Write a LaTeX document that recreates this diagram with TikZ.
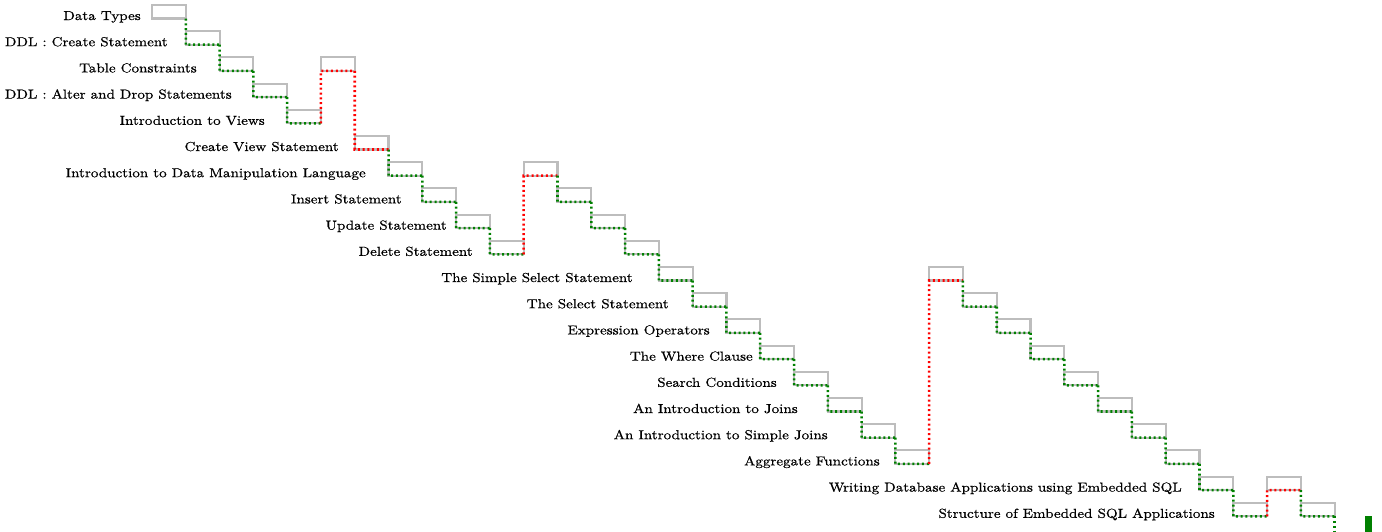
\documentclass[tikz,border=0pt]{standalone}
\usepackage{fontspec}
\setmainfont{Latin Modern Roman}[FakeStretch=1.16,FakeBold=0.7]
\definecolor{barline}{HTML}{BDBDBD}
\definecolor{okpath}{HTML}{008000}
\definecolor{hotpath}{HTML}{FF0000}
\begin{document}
\begin{tikzpicture}[x=0.75pt,y=-0.75pt,
  bar/.style={draw=barline,line width=1.6pt,rectangle,inner sep=0pt,outer sep=0pt,
    minimum width=25.34pt,minimum height=10.125pt},
  link/.style={line width=1.9pt,dash pattern=on 1.5pt off 2.1pt},
  lbl/.style={anchor=base east,inner sep=0pt,font=\fontsize{9.75}{11}\selectfont}]
\useasboundingbox (0,0) rectangle (1382,532);
% bars: column / row
\foreach \c/\r in {0/0,1/1,2/2,3/3,4/4,5/2,6/5,7/6,8/7,9/8,10/9,11/6,12/7,13/8,14/9,
  15/10,16/11,17/12,18/13,19/14,20/15,21/16,22/17,23/10,24/11,25/12,26/13,27/14,
  28/15,29/16,30/17,31/18,32/19,33/18,34/19}
  \node[bar] (b\c) at ({152+33.79*\c+16.9},{11.75+26.2*\r}) {};
% dependency links between consecutive bars
\foreach \c/\col in {1/okpath,2/okpath,3/okpath,4/okpath,5/hotpath,6/hotpath,7/okpath,
  8/okpath,9/okpath,10/okpath,11/hotpath,12/okpath,13/okpath,14/okpath,15/okpath,
  16/okpath,17/okpath,18/okpath,19/okpath,20/okpath,21/okpath,22/okpath,23/hotpath,
  24/okpath,25/okpath,26/okpath,27/okpath,28/okpath,29/okpath,30/okpath,31/okpath,
  32/okpath,33/hotpath,34/okpath}{
  \pgfmathtruncatemacro\p{\c-1}
  \draw[link,draw=\col] (b\p.south east) -- (b\c.south west) -- (b\c.south east);
}
\coordinate (tail) at (1335,540);
\draw[link,draw=okpath] (b34.south east) -- (b34.south east |- tail);
\node[fill=okpath,inner sep=0pt,outer sep=0pt,minimum width=5.4pt,minimum height=13.5pt,anchor=north west] (ms) at (1365,516) {};
% task labels
\node[lbl] at (141,20) {Data Types};
\node[lbl] at (168,46.2) {DDL : Create Statement};
\node[lbl] at (197,72.4) {Table Constraints};
\node[lbl] at (232,98.6) {DDL : Alter and Drop Statements};
\node[lbl] at (265,124.8) {Introduction to Views};
\node[lbl] at (339,151) {Create View Statement};
\node[lbl] at (366,177.2) {Introduction to Data Manipulation Language};
\node[lbl] at (402,203.4) {Insert Statement};
\node[lbl] at (447,229.6) {Update Statement};
\node[lbl] at (473,255.8) {Delete Statement};
\node[lbl] at (633,282) {The Simple Select Statement};
\node[lbl] at (669,308.2) {The Select Statement};
\node[lbl] at (710,334.4) {Expression Operators};
\node[lbl] at (753,360.6) {The Where Clause};
\node[lbl] at (777,386.8) {Search Conditions};
\node[lbl] at (798,413) {An Introduction to Joins};
\node[lbl] at (828,439.2) {An Introduction to Simple Joins};
\node[lbl] at (880,465.4) {Aggregate Functions};
\node[lbl] at (1182,491.6) {Writing Database Applications using Embedded SQL};
\node[lbl] at (1215,517.8) {Structure of Embedded SQL Applications};
\end{tikzpicture}
\end{document}
